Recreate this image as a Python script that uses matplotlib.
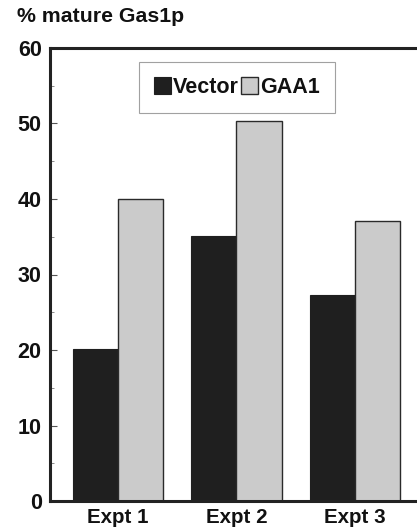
import matplotlib
matplotlib.use("Agg")
import matplotlib.pyplot as plt
import numpy as np
from matplotlib.ticker import MultipleLocator

plt.rcParams.update({
    "font.family": ["Liberation Sans", "DejaVu Sans"],
    "font.weight": "bold",
})

categories = ["Expt 1", "Expt 2", "Expt 3"]
vector = [20.1, 35.1, 27.3]
gaa1 = [40.0, 50.3, 37.1]
y_label = "% mature Gas1p"

W, H = 417, 531
fig = plt.figure(figsize=(W / 100, H / 100), dpi=100, facecolor="white")
# axes box in pixels: left 50, right ~423 (just past the image edge), top 48, bottom 501
ax = fig.add_axes([50 / W, (H - 501) / H, (423 - 50) / W, (501 - 48) / H])

x = np.arange(len(categories))
w = 0.38
ax.bar(x - w / 2, vector, w, color="#1f1f1f", edgecolor="#1f1f1f", linewidth=0.8, label="Vector")
ax.bar(x + w / 2, gaa1, w, color="#cbcbcb", edgecolor="#2a2a2a", linewidth=1.0, label="GAA1")

ax.set_xlim(-0.574, 2.574)
ax.set_ylim(0, 60)
ax.set_xticks(x)
ax.set_xticklabels(categories)
ax.yaxis.set_major_locator(MultipleLocator(10))
ax.yaxis.set_minor_locator(MultipleLocator(5))

for side in ("left", "bottom", "top", "right"):
    ax.spines[side].set_linewidth(2.2)
    ax.spines[side].set_color("#222222")

ax.tick_params(axis="y", which="major", direction="in", length=5, width=0.8,
               colors="#555555", labelcolor="#111111", labelsize=15.5, pad=6)
ax.tick_params(axis="y", which="minor", direction="in", length=3, width=0.6, colors="#777777")
ax.tick_params(axis="x", length=0, labelsize=14.8, labelcolor="#111111", pad=5)

fig.text(17 / W, 1 - 17 / H, y_label, ha="left", va="center", fontsize=15.3,
         weight="bold", color="#111111")

leg = ax.legend(loc="upper center", bbox_to_anchor=(0.501, 0.969), ncol=2,
                frameon=True, fancybox=False, fontsize=15.5, borderaxespad=0,
                handlelength=0.8, handleheight=0.8, handletextpad=0.1,
                columnspacing=0.1, borderpad=0.7)
leg.get_frame().set_edgecolor("#8a8a8a")
leg.get_frame().set_linewidth(0.8)
for t in leg.get_texts():
    t.set_color("#111111")

fig.savefig("out.png", dpi=100, facecolor="white")
